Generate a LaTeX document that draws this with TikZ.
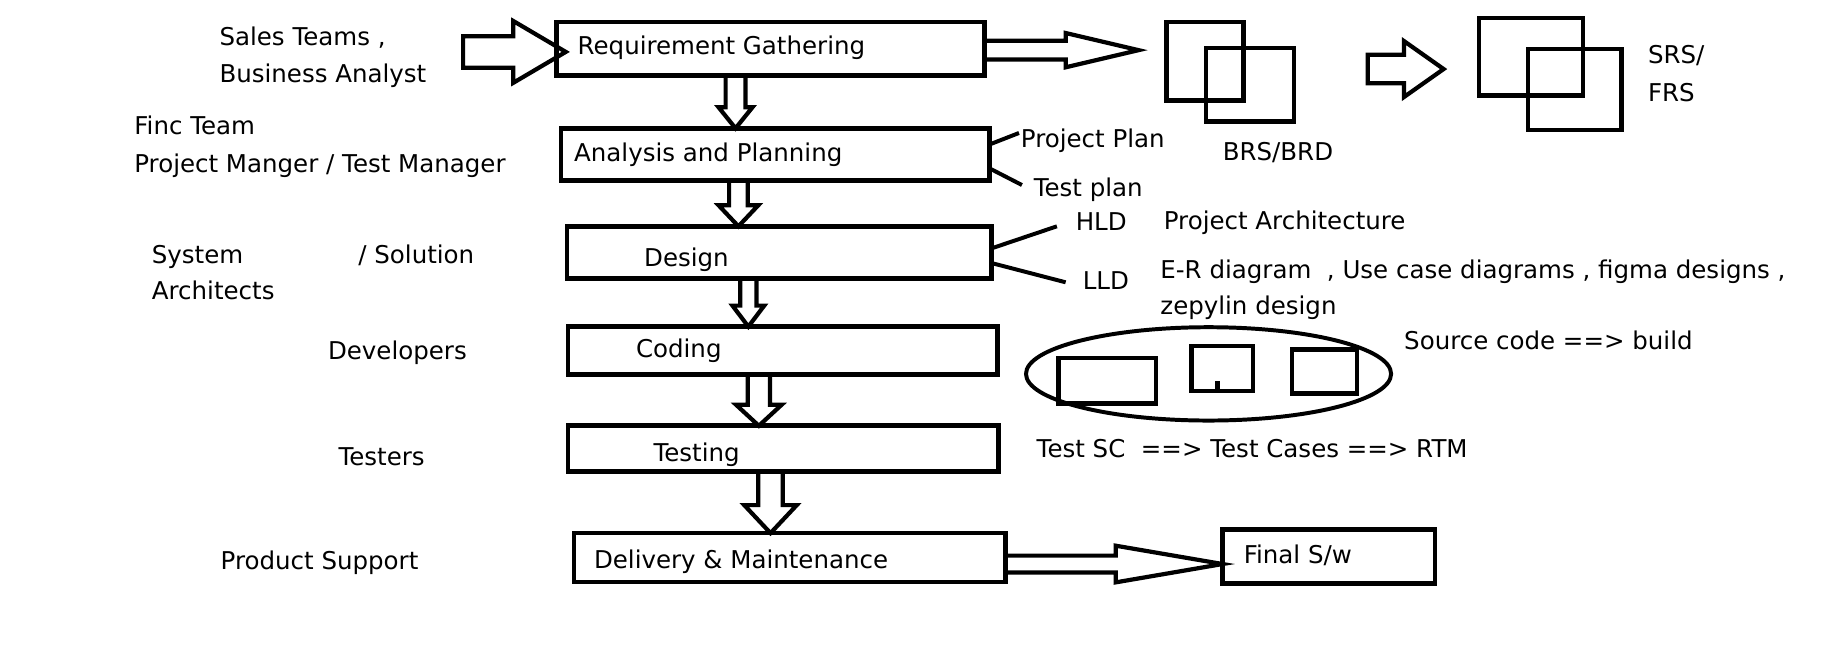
\documentclass[tikz,border=0pt]{standalone}
\usepackage{fontspec}
\setmainfont{DejaVu Sans}
\usetikzlibrary{calc,shapes.geometric}
\newcommand\blkdown[6]{%
  \draw[blk] let \p1=(#1.south), \p2=(#2.north) in
    ({#3pt-#4pt},\y1) -- ({#3pt+#4pt},\y1) -- ({#3pt+#4pt},{\y2+#6pt}) -- ({#3pt+#5pt},{\y2+#6pt})
    -- (#3pt,\y2) -- ({#3pt-#5pt},{\y2+#6pt}) -- ({#3pt-#4pt},{\y2+#6pt}) -- cycle;}
\newcommand\blkright[6]{%
  \draw[blk] let \p1=(#1), \p2=(#2) in
    (\x1,{-#3pt+#4pt}) -- ({\x2-#6pt},{-#3pt+#4pt}) -- ({\x2-#6pt},{-#3pt+#5pt})
    -- (\x2,-#3pt) -- ({\x2-#6pt},{-#3pt-#5pt}) -- ({\x2-#6pt},{-#3pt-#4pt})
    -- (\x1,{-#3pt-#4pt}) -- cycle;}
\begin{document}
\begin{tikzpicture}[x=1pt,y=-1pt,
  box/.style={draw, line width=4pt, inner sep=0pt, outer sep=0pt, anchor=north west},
  doc/.style={draw, line width=3.8pt, inner sep=0pt, outer sep=0pt, anchor=north west},
  txt/.style={anchor=base west, inner sep=0pt, font=\fontsize{21pt}{25pt}\selectfont},
  blk/.style={draw, line width=3.6pt, line join=miter},
  tie/.style={draw, line width=3.4pt}]
\useasboundingbox (0,0) rectangle (1567,555.5);

% process boxes
\node[box, minimum width=367pt, minimum height=46pt] (req) at (477,19) {};
\node[box, minimum width=367pt, minimum height=45pt] (ana) at (481,110) {};
\node[box, minimum width=364pt, minimum height=45pt] (des) at (486,194) {};
\node[box, minimum width=368pt, minimum height=41pt] (cod) at (487,280) {};
\node[box, minimum width=369pt, minimum height=39pt] (tes) at (487,365) {};
\node[box, minimum width=370pt, minimum height=42pt] (del) at (492,457) {};
\node[box, minimum width=182pt, minimum height=46pt] (fin) at (1048,454) {};

% documents
\node[doc, minimum width=66pt, minimum height=67pt] (brsA) at (1000,19) {};
\node[doc, minimum width=75pt, minimum height=63pt] (brsB) at (1034,41) {};
\node[doc, minimum width=89pt, minimum height=66.5pt] (srsA) at (1268,15.5) {};
\node[doc, minimum width=80pt, minimum height=69.5pt] (srsB) at (1310,42) {};

% build ellipse
\node[draw, ellipse, line width=3.4pt, minimum width=313pt, minimum height=80pt, inner sep=0pt] (bld) at (1036,320.5) {};
\node[doc, minimum width=83.5pt, minimum height=39pt] (ra) at (907.5,307) {};
\node[doc, minimum width=52.5pt, minimum height=38.5pt] (rb) at (1021.5,296.5) {};
\node[doc, minimum width=55.5pt, minimum height=38pt] (rc) at (1107.5,299.5) {};
\draw[line width=4.3pt] ($(rb.south)+(-3.9,0)$) -- ++(0,-8);

% texts
\node[txt] (sales) at (188,38.6) {Sales Teams ,};
\node[txt] (ba) at (188,71) {Business Analyst};
\node[txt] (rg) at (495,47.1) {Requirement Gathering};
\node[txt] (finc) at (115,115.7) {Finc Team};
\node[txt] (pm) at (115,148) {Project Manger / Test Manager};
\node[txt] (ap) at (492,138.6) {Analysis and Planning};
\node[txt] (sys) at (130,225.7) {System};
\node[txt] (sol) at (307,225.7) {/ Solution};
\node[txt] (arch) at (130,257) {Architects};
\node[txt] (dz) at (552,228.6) {Design};
\node[txt] (dev) at (281,308.6) {Developers};
\node[txt] (cg) at (545,306.8) {Coding};
\node[txt] (tst) at (290,399.1) {Testers};
\node[txt] (tsg) at (560,395.4) {Testing};
\node[txt] (ps) at (189,488.3) {Product Support};
\node[txt] (dm) at (509,487.1) {Delivery \& Maintenance};
\node[txt] (srs) at (1412.5,54.3) {SRS/};
\node[txt] (frs) at (1412.5,86.6) {FRS};
\node[txt] (brd) at (1048,138) {BRS/BRD};
\node[txt] (pp) at (875,126.3) {Project Plan};
\node[txt] (tp) at (886,168.6) {Test plan};
\node[txt] (hld) at (922,198) {HLD};
\node[txt] (pa) at (997.5,196.6) {Project Architecture};
\node[txt] (lld) at (928,248) {LLD};
\node[txt] (er) at (994.5,238.6) {E-R diagram\ \ , Use case diagrams , figma designs ,};
\node[txt] (zep) at (994.5,270) {zepylin design};
\node[txt] (sc) at (1203.5,300) {Source code ==> build};
\node[txt] (tsc) at (888.5,392) {Test SC\ \ ==> Test Cases ==> RTM};
\node[txt] (fs) at (1066,482.8) {Final S/w};

% free ends
\coordinate (in0) at (397,44.5);
\coordinate (brsin) at (976,43);
\coordinate (srsout) at (1172.5,59.2);
\coordinate (srsin) at (1237.5,59.2);
\coordinate (ppE) at (873.5,114);
\coordinate (tpE) at (876,158.6);
\coordinate (hldE) at (906,194);
\coordinate (lldE) at (913.5,242);

% block arrows
\blkdown{req}{ana}{630.5}{8.5}{14.5}{18}
\blkdown{ana}{des}{633}{8}{17}{18}
\blkdown{des}{cod}{641.5}{7}{13.6}{18}
\blkdown{cod}{tes}{650.5}{9.5}{19.5}{18}
\blkdown{tes}{del}{660.5}{10.5}{22.5}{24}
\blkright{in0}{$(req.west)+(8,0)$}{44.5}{13.5}{26.5}{45}
\blkright{req.east}{brsin}{43}{8}{14.7}{62.5}
\blkright{srsout}{srsin}{59.2}{12.2}{24}{34}
\blkright{del.east}{fin.west}{483.5}{7.2}{15.7}{91.5}

% ties
\draw[tie] ($(ana.north east)!0.31!(ana.south east)$) -- (ppE);
\draw[tie] ($(ana.north east)!0.76!(ana.south east)$) -- (tpE);
\draw[tie] ($(des.north east)!0.42!(des.south east)$) -- (hldE);
\draw[tie] ($(des.north east)!0.70!(des.south east)$) -- (lldE);
\end{tikzpicture}
\end{document}
